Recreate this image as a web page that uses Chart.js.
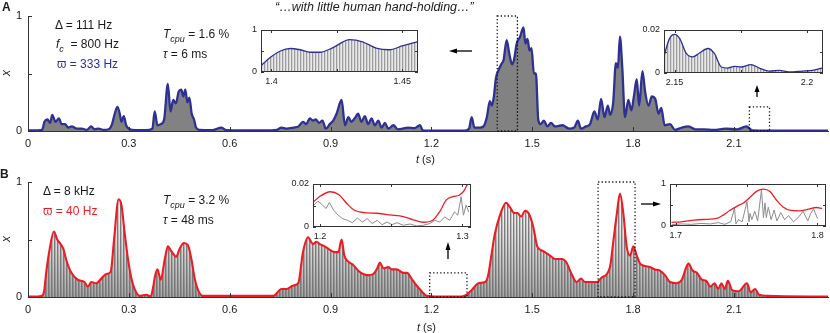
<!DOCTYPE html>
<html><head><meta charset="utf-8">
<script src="https://cdn.jsdelivr.net/npm/chart.js@4.4.1/dist/chart.umd.min.js"></script>
<style>
body{margin:0;width:830px;height:333px;position:relative;background:#fff;font-family:'Liberation Sans',Arial,sans-serif;overflow:hidden}
canvas{position:absolute}
.t{position:absolute;white-space:nowrap;font-size:12px;color:#1a1a1a;line-height:12px}
.sub{font-size:9px;position:relative;top:4px;font-style:italic}
</style></head><body>
<canvas id="cA"></canvas><canvas id="cB"></canvas>
<canvas id="cA1"></canvas><canvas id="cA2"></canvas><canvas id="cB1"></canvas><canvas id="cB2"></canvas>

<div class="t" style="left:2px;top:1px;font-weight:bold;font-size:12px">A</div>
<div class="t" style="left:0px;top:168px;font-weight:bold;font-size:12px">B</div>
<div class="t" style="left:275px;top:1px;font-style:italic;font-size:12.5px">“…with little human hand-holding…”</div>

<div class="t" style="left:55px;top:19px">Δ = 111 Hz</div>
<div class="t" style="left:56px;top:38px"><i>f</i><span class="sub">c</span>&nbsp;&nbsp;= 800 Hz</div>
<div class="t" style="left:57px;top:58px;color:#2E3192">ϖ = 333 Hz</div>
<div class="t" style="left:163px;top:28px"><i>T</i><span class="sub">cpu</span> = 1.6 %</div>
<div class="t" style="left:163px;top:48px"><i>τ</i> = 6 ms</div>

<div class="t" style="left:43px;top:185px">Δ = 8 kHz</div>
<div class="t" style="left:43px;top:205px;color:#ED1C24">ϖ = 40 Hz</div>
<div class="t" style="left:163px;top:194px"><i>T</i><span class="sub">cpu</span> = 3.2 %</div>
<div class="t" style="left:163px;top:214px"><i>τ</i> = 48 ms</div>

<div class="t" style="left:3px;top:67px;font-style:italic;font-size:12px;transform:rotate(-90deg)">x</div>
<div class="t" style="left:3px;top:233px;font-style:italic;font-size:12px;transform:rotate(-90deg)">x</div>
<div class="t" style="left:416px;top:153px;font-size:11px"><i>t</i> (s)</div>
<div class="t" style="left:417px;top:321px;font-size:11px"><i>t</i> (s)</div>

<svg width="830" height="333" style="position:absolute;left:0;top:0;pointer-events:none">
 <g stroke="#000" stroke-width="1.3" fill="#000">
  <line x1="472" y1="51" x2="455" y2="51"/><polygon points="449,51 457,48.5 457,53.5" stroke="none"/>
  <line x1="757" y1="97" x2="757" y2="90"/><polygon points="757,85 754.5,92 759.5,92" stroke="none"/>
  <line x1="448" y1="259" x2="448" y2="248"/><polygon points="448,242 445.5,250 450.5,250" stroke="none"/>
  <line x1="641" y1="204" x2="655" y2="204"/><polygon points="661,204 653,201.5 653,206.5" stroke="none"/>
 </g>
</svg>

<script>
// ---------- data ----------
const tA=[0,0.03,0.042,0.049,0.058,0.066,0.072,0.082,0.092,0.100,0.11,0.12,0.13,0.145,0.16,0.175,0.188,0.198,0.21,0.225,0.24,0.25,0.258,0.266,0.273,0.278,0.285,0.292,0.30,0.32,0.35,0.37,0.377,0.385,0.395,0.405,0.416,0.424,0.432,0.440,0.448,0.456,0.462,0.468,0.474,0.480,0.487,0.494,0.500,0.51,0.55,0.575,0.59,0.70,0.74,0.754,0.77,0.79,0.805,0.818,0.828,0.838,0.848,0.856,0.866,0.876,0.886,0.898,0.908,0.918,0.933,0.943,0.953,0.962,0.972,0.982,0.992,1.002,1.012,1.022,1.032,1.042,1.052,1.062,1.072,1.087,1.10,1.115,1.13,1.15,1.166,1.175,1.20,1.30,1.312,1.32,1.328,1.345,1.355,1.365,1.374,1.380,1.386,1.392,1.40,1.408,1.415,1.424,1.432,1.440,1.446,1.454,1.464,1.474,1.480,1.486,1.492,1.498,1.505,1.511,1.518,1.525,1.535,1.545,1.556,1.568,1.59,1.61,1.625,1.636,1.645,1.66,1.672,1.685,1.695,1.705,1.715,1.725,1.732,1.741,1.749,1.755,1.761,1.768,1.776,1.786,1.795,1.803,1.811,1.818,1.828,1.836,1.846,1.856,1.866,1.876,1.884,1.894,1.91,1.925,1.945,1.965,1.985,2.01,2.04,2.075,2.11,2.137,2.155,2.2,2.38];
const xA=[0.005,0.005,0.01,0.08,0.10,0.07,0.14,0.08,0.11,0.06,0.06,0.03,0.04,0.02,0.02,0.01,0.04,0.015,0.02,0.01,0.015,0.06,0.15,0.21,0.15,0.08,0.13,0.05,0.02,0.008,0.008,0.02,0.17,0.05,0.06,0.10,0.41,0.17,0.27,0.24,0.34,0.36,0.30,0.36,0.25,0.29,0.15,0.10,0.03,0.01,0.008,0.03,0.008,0.005,0.01,0.03,0.02,0.03,0.04,0.08,0.06,0.11,0.09,0.10,0.07,0.09,0.02,0.06,0.09,0.15,0.27,0.05,0.12,0.08,0.11,0.15,0.08,0.13,0.06,0.11,0.05,0.09,0.03,0.07,0.02,0.05,0.015,0.02,0.03,0.025,0.05,0.005,0.004,0.004,0.02,0.12,0.03,0.03,0.04,0.12,0.26,0.22,0.30,0.46,0.53,0.58,0.62,0.79,0.67,0.58,0.62,0.76,0.82,0.90,0.76,0.80,0.70,0.72,0.50,0.50,0.10,0.06,0.09,0.04,0.07,0.04,0.05,0.02,0.03,0.09,0.02,0.04,0.06,0.17,0.10,0.28,0.12,0.22,0.14,0.25,0.59,0.55,0.82,0.55,0.12,0.27,0.18,0.31,0.45,0.22,0.52,0.34,0.22,0.30,0.28,0.15,0.20,0.05,0.06,0.01,0.03,0.04,0.015,0.015,0.01,0.02,0.015,0.04,0.005,0.003,0.003];

const tB=[0,0.03,0.04,0.048,0.054,0.064,0.077,0.087,0.097,0.105,0.114,0.129,0.148,0.168,0.178,0.188,0.203,0.218,0.233,0.246,0.256,0.2695,0.278,0.287,0.297,0.307,0.317,0.332,0.352,0.365,0.372,0.377,0.385,0.395,0.407,0.416,0.426,0.441,0.451,0.464,0.476,0.486,0.496,0.506,0.52,0.6,0.73,0.754,0.77,0.789,0.804,0.818,0.833,0.848,0.858,0.868,0.883,0.898,0.913,0.923,0.933,0.941,0.952,0.967,0.982,0.997,1.012,1.027,1.039,1.047,1.057,1.072,1.082,1.097,1.116,1.128,1.141,1.156,1.171,1.186,1.22,1.29,1.305,1.320,1.340,1.360,1.369,1.379,1.389,1.404,1.422,1.434,1.446,1.456,1.467,1.479,1.491,1.503,1.515,1.525,1.538,1.553,1.568,1.588,1.602,1.617,1.632,1.645,1.657,1.677,1.692,1.707,1.722,1.732,1.742,1.752,1.761,1.771,1.781,1.791,1.801,1.811,1.821,1.835,1.850,1.865,1.880,1.895,1.910,1.930,1.945,1.965,1.977,1.99,2.005,2.018,2.030,2.043,2.053,2.063,2.073,2.082,2.095,2.114,2.139,2.150,2.163,2.175,2.20,2.38];
const xB=[0.003,0.005,0.01,0.05,0.21,0.41,0.57,0.50,0.46,0.42,0.32,0.21,0.15,0.13,0.09,0.13,0.12,0.16,0.20,0.22,0.50,0.85,0.80,0.57,0.34,0.17,0.07,0.01,0.02,0.005,0.08,0.17,0.24,0.15,0.33,0.44,0.40,0.35,0.42,0.47,0.45,0.33,0.16,0.06,0.01,0.01,0.01,0.07,0.07,0.10,0.12,0.39,0.52,0.46,0.48,0.46,0.44,0.41,0.39,0.39,0.50,0.36,0.31,0.28,0.23,0.20,0.19,0.20,0.25,0.30,0.25,0.26,0.24,0.24,0.21,0.21,0.16,0.10,0.05,0.01,0.003,0.003,0.02,0.06,0.12,0.13,0.19,0.37,0.55,0.71,0.82,0.78,0.73,0.73,0.70,0.75,0.72,0.61,0.44,0.41,0.39,0.36,0.33,0.33,0.30,0.20,0.13,0.16,0.13,0.13,0.13,0.17,0.20,0.27,0.50,0.73,0.90,0.73,0.44,0.36,0.44,0.36,0.29,0.27,0.26,0.24,0.23,0.19,0.13,0.12,0.15,0.29,0.23,0.21,0.15,0.14,0.09,0.12,0.07,0.12,0.07,0.14,0.06,0.05,0.12,0.04,0.07,0.02,0.01,0.004];

const tA1=[1.3962,1.3996,1.4034,1.4072,1.411,1.4148,1.4186,1.4235,1.4299,1.4348,1.44,1.445,1.45,1.4557];
const xA1=[0.16,0.35,0.50,0.56,0.53,0.47,0.47,0.58,0.77,0.72,0.57,0.53,0.62,0.72];

const tA2=[2.1459,2.1481,2.15,2.1519,2.1544,2.1569,2.1594,2.1625,2.165,2.1676,2.17,2.1726,2.1751,2.1788,2.182,2.1857,2.1895,2.1932,2.1982,2.202,2.2056];
const xA2=[0.0075,0.0161,0.018,0.0161,0.0091,0.0075,0.0093,0.0114,0.0091,0.0028,0.0023,0.0031,0.0028,0.0039,0.0023,0.0009,0.0012,0.0005,0.0009,0.0012,0.0023];

const tB1=[1.1956,1.1995,1.2072,1.2134,1.2192,1.2238,1.2308,1.2401,1.2493,1.2585,1.2655,1.2724,1.2794,1.284,1.2887,1.2933,1.2979,1.3014,1.3037,1.306];
const xB1=[0.0118,0.0141,0.0164,0.0149,0.0106,0.0079,0.0067,0.0064,0.0056,0.0048,0.0033,0.0022,0.0033,0.0071,0.0126,0.0141,0.0149,0.0172,0.0203,0.024];
const tB1g=[1.1956,1.1984,1.2012,1.2042,1.2065,1.2095,1.2127,1.2157,1.2192,1.2227,1.2262,1.2296,1.2331,1.2366,1.2401,1.2435,1.247,1.2505,1.254,1.2585,1.2632,1.2678,1.2724,1.2771,1.2806,1.284,1.2875,1.291,1.2944,1.2967,1.2991,1.3007,1.3026,1.3044];
const gB1=[0.0102,0.012,0.0105,0.0086,0.0114,0.0078,0.0055,0.0039,0.0031,0.002,0.0042,0.0023,0.0039,0.0016,0.0031,0.0011,0.0023,0.0011,0.002,0.0008,0.0014,0.0005,0.0008,0.0016,0.0031,0.0023,0.0047,0.0031,0.007,0.0055,0.0141,0.0055,0.0102,0.007];

const tB2=[1.6971,1.7041,1.7131,1.7222,1.729,1.7335,1.7381,1.7427,1.7483,1.7529,1.7573,1.7619,1.7665,1.771,1.7755,1.7812,1.7869,1.7937,1.7993,1.8032];
const xB2=[0.087,0.10,0.14,0.16,0.18,0.26,0.37,0.46,0.56,0.70,0.83,0.88,0.82,0.62,0.46,0.37,0.36,0.40,0.44,0.42];
const tB2g=[1.6973,1.7041,1.7109,1.7177,1.7245,1.73,1.7347,1.7388,1.7415,1.7425,1.7442,1.7469,1.7503,1.7517,1.7524,1.7537,1.7558,1.7578,1.7605,1.7619,1.763,1.7639,1.7653,1.7673,1.7694,1.7714,1.7741,1.7769,1.7796,1.783,1.7864,1.7898,1.7932,1.7952,1.7973,1.8];
const gB2=[0.03,0.05,0.04,0.06,0.05,0.08,0.04,0.1,0.42,0.05,0.15,0.1,0.58,0.1,0.3,0.15,0.35,0.12,0.86,0.2,0.55,0.2,0.45,0.15,0.38,0.12,0.32,0.15,0.25,0.1,0.2,0.35,0.12,0.3,0.4,0.18];

const xTicksMain=[0,0.3,0.6,0.9,1.2,1.5,1.8,2.1];
const xTickLabelsMain=['0','0.3','0.6','0.9','1.2','1.5','1.8','2.1'];
const yTicksUnit=[0,0.5,1], yTickLabelsUnit=['0','','1'];
const yTicksSmall=[0,0.01,0.02], yTickLabelsSmall=['0','','0.02'];
const xTicksA1=[1.4,1.425,1.45], xTickLabelsA1=['1.4','','1.45'];
const xTicksA2=[2.15,2.175,2.2], xTickLabelsA2=['2.15','','2.2'];
const xTicksB1=[1.2,1.25,1.3], xTickLabelsB1=['1.2','','1.3'];
const xTicksB2=[1.7,1.75,1.8], xTickLabelsB2=['1.7','','1.8'];
const rangeA1=[1.396,1.456], rangeA2=[2.146,2.206], rangeB1=[1.195,1.306], rangeB2=[1.696,1.806];
const tMax=2.38;

// ---------- styling helpers ----------
const BLUE='#2E3192', RED='#ED1C24';
const pts=(t,v)=>t.map((x,i)=>({x:x,y:v[i]}));

function stripePattern(h, colFn){
  const c=document.createElement('canvas'); const w=colFn.w; c.width=w; c.height=h;
  const g=c.getContext('2d');
  for(let y=0;y<h;y++){ for(let x=0;x<w;x++){ g.fillStyle=colFn(x,y); g.fillRect(x,y,1,1);} }
  return g.createPattern(c,'repeat');
}

const deco={
  id:'deco',
  beforeDatasetsDraw(chart,a,o){
    if(o.bg){const ca=chart.chartArea,ctx=chart.ctx;ctx.save();ctx.fillStyle='#fff';ctx.fillRect(ca.left,ca.top,ca.right-ca.left,ca.bottom-ca.top);ctx.restore();}
  },
  afterDatasetsDraw(chart,a,o){
    const ctx=chart.ctx, ca=chart.chartArea, xs=chart.scales.x, ys=chart.scales.y;
    const L=o.len||4;
    ctx.save(); ctx.strokeStyle='#333'; ctx.lineWidth=1; ctx.beginPath();
    xs.ticks.forEach(t=>{const p=Math.round(xs.getPixelForValue(t.value))+0.5;
      ctx.moveTo(p,ca.bottom);ctx.lineTo(p,ca.bottom-L);
      if(o.frame){ctx.moveTo(p,ca.top);ctx.lineTo(p,ca.top+L);} });
    ys.ticks.forEach(t=>{const p=Math.round(ys.getPixelForValue(t.value))+0.5;
      ctx.moveTo(ca.left,p);ctx.lineTo(ca.left+L,p);
      if(o.frame){ctx.moveTo(ca.right,p);ctx.lineTo(ca.right-L,p);} });
    ctx.stroke();
    if(o.frame){ctx.strokeStyle='#333';ctx.strokeRect(Math.round(ca.left)+0.5,Math.round(ca.top)+0.5,Math.round(ca.right-ca.left)-1,Math.round(ca.bottom-ca.top)-1);}
    (o.rects||[]).forEach(r=>{
      ctx.setLineDash([1.3,2.2]); ctx.lineWidth=1.3; ctx.strokeStyle='#111';
      const x0=xs.getPixelForValue(r[0]), x1=xs.getPixelForValue(r[1]);
      const y0=ys.getPixelForValue(0), y1=ys.getPixelForValue(r[2]);
      ctx.strokeRect(x0,y1,x1-x0,y0-y1);
    });
    ctx.restore();
  }
};
Chart.register(deco);

function place(id, box, m){
  const c=document.getElementById(id);
  const w=box[2]-box[0]+m.l+m.r, h=box[3]-box[1]+m.t+m.b;
  c.style.left=(box[0]-m.l)+'px'; c.style.top=(box[1]-m.t)+'px';
  c.width=w; c.height=h; c.style.width=w+'px'; c.style.height=h+'px';
  return c;
}

function makeChart(id, box, m, datasets, xr, xt, xl, yr, yt, yl, fs, pad, decoOpts){
  const c=place(id,box,m);
  return new Chart(c,{
    type:'line',
    data:{datasets:datasets},
    options:{
      responsive:false, animation:false, devicePixelRatio:1,
      layout:{padding:{left:0,top:m.t,right:m.r,bottom:0}},
      plugins:{legend:{display:false},tooltip:{enabled:false},deco:decoOpts},
      elements:{point:{radius:0}},
      scales:{
        x:{type:'linear',min:xr[0],max:xr[1],
           afterFit(s){s.height=m.b;},
           afterBuildTicks(s){s.ticks=xt.map(v=>({value:v}));},
           border:{display:!decoOpts.frame,color:'#333',width:1},
           grid:{display:true,drawOnChartArea:false,drawTicks:false},
           ticks:{autoSkip:false,maxRotation:0,padding:pad.x,color:'#1a1a1a',font:{family:'Liberation Sans',size:fs},callback:(v,i)=>xl[i]}},
        y:{type:'linear',min:yr[0],max:yr[1],
           afterFit(s){s.width=m.l;},
           afterBuildTicks(s){s.ticks=yt.map(v=>({value:v}));},
           border:{display:!decoOpts.frame,color:'#333',width:1},
           grid:{display:true,drawOnChartArea:false,drawTicks:false},
           ticks:{autoSkip:false,padding:pad.y,color:'#1a1a1a',font:{family:'Liberation Sans',size:fs},callback:(v,i)=>yl[i]}}
      }
    }
  });
}

// patterns
const patA=(function(){const f=(x,y)=>['#9c9c9c','#d4d4d4','#e9e9e9'][x];f.w=3;return stripePattern(4,f);})();
const patB=(function(){
  const top=16,bot=131;
  const f=(x,y)=>{let k=Math.min(1,Math.max(0,(y-top)/(bot-top))); k=Math.pow(k,1.6);
    const lv=[[125,118],[205,135],[250,165]][x]; const v=Math.round(lv[0]+(lv[1]-lv[0])*k);
    return 'rgb('+v+','+v+','+v+')';};
  f.w=3; return stripePattern(170,f);})();

// ---------- main A ----------
makeChart('cA',[28,16,828,131],{l:28,t:16,r:2,b:34},
  [{data:pts(tA,xA),borderColor:BLUE,borderWidth:2.3,backgroundColor:'#828282',fill:'origin',cubicInterpolationMode:'monotone'}],
  [0,tMax],xTicksMain,xTickLabelsMain,[0,1],yTicksUnit,yTickLabelsUnit,11,{x:6,y:6},
  {len:4,rects:[[rangeA1[0],rangeA1[1],1.0],[rangeA2[0],rangeA2[1],0.21]]});

// ---------- main B ----------
makeChart('cB',[28,182,828,297],{l:28,t:16,r:2,b:36},
  [{data:pts(tB,xB),borderColor:RED,borderWidth:2.1,backgroundColor:patB,fill:'origin',cubicInterpolationMode:'monotone'}],
  [0,tMax],xTicksMain,xTickLabelsMain,[0,1],yTicksUnit,yTickLabelsUnit,11,{x:6,y:6},
  {len:4,rects:[[rangeB1[0],rangeB1[1],0.21],[rangeB2[0],rangeB2[1],1.0]]});

// ---------- insets ----------
const mi={l:30,t:10,r:4,b:18};
makeChart('cA1',[261,30,418,72],mi,
  [{data:pts(tA1,xA1),borderColor:BLUE,borderWidth:1.3,backgroundColor:patA,fill:'origin',cubicInterpolationMode:'monotone'}],
  rangeA1,xTicksA1,xTickLabelsA1,[0,1],yTicksUnit,yTickLabelsUnit,9,{x:4,y:4},{frame:true,bg:true,len:3});
makeChart('cA2',[664,30,823,73],mi,
  [{data:pts(tA2,xA2),borderColor:BLUE,borderWidth:1.3,backgroundColor:patA,fill:'origin',cubicInterpolationMode:'monotone'}],
  rangeA2,xTicksA2,xTickLabelsA2,[0,0.02],yTicksSmall,yTickLabelsSmall,9,{x:4,y:4},{frame:true,bg:true,len:3});
makeChart('cB1',[313,184,471,227],mi,
  [{data:pts(tB1,xB1),borderColor:RED,borderWidth:1.3,cubicInterpolationMode:'monotone'},
   {data:pts(tB1g,gB1),borderColor:'#8c8c8c',borderWidth:1,tension:0}],
  rangeB1,xTicksB1,xTickLabelsB1,[0,0.02],yTicksSmall,yTickLabelsSmall,9,{x:4,y:4},{frame:true,bg:true,len:3});
makeChart('cB2',[670,184,826,226],mi,
  [{data:pts(tB2,xB2),borderColor:RED,borderWidth:1.3,cubicInterpolationMode:'monotone'},
   {data:pts(tB2g,gB2),borderColor:'#8c8c8c',borderWidth:1,tension:0}],
  rangeB2,xTicksB2,xTickLabelsB2,[0,1],yTicksUnit,yTickLabelsUnit,9,{x:4,y:4},{frame:true,bg:true,len:3});
</script>
</body></html>
